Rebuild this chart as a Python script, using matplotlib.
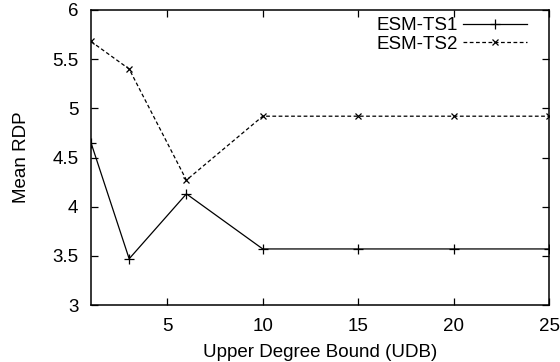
import matplotlib.pyplot as plt

plt.rcParams['font.family'] = ['Liberation Sans', 'DejaVu Sans']

# Mean RDP against the upper degree bound
udb = [1, 3, 6, 10, 15, 20, 25]
ts1 = [4.65, 3.47, 4.13, 3.57, 3.57, 3.57, 3.57]
ts2 = [5.68, 5.40, 4.27, 4.92, 4.92, 4.92, 4.92]

xticks = [5, 10, 15, 20, 25]
yticks = [3, 3.5, 4, 4.5, 5, 5.5, 6]
ytick_labels = ["3", "3.5", "4", "4.5", "5", "5.5", "6"]

FS = 13.5

fig = plt.figure(figsize=(5.6, 3.62), dpi=100)
ax = fig.add_axes([91 / 560, 1 - 305 / 362, (549 - 91) / 560, (305 - 10) / 362])

ax.plot(udb, ts1, color="black", lw=0.9, marker="+", ms=7, mew=0.9,
        label="ESM-TS1")
ax.plot(udb, ts2, color="black", lw=0.9, ls=(0, (3, 2)), marker="x", ms=4.5,
        mew=0.9, label="ESM-TS2")

ax.set_xlim(1, 25)
ax.set_ylim(3, 6)
ax.set_xticks(xticks)
ax.set_yticks(yticks)
ax.set_yticklabels(ytick_labels)
ax.tick_params(direction="in", top=True, right=True, length=5, width=0.9,
               labelsize=FS)
ax.tick_params(axis="y", pad=9)
ax.tick_params(axis="x", pad=9.5)
for s in ax.spines.values():
    s.set_linewidth(1.1)

ax.set_xlabel("Upper Degree Bound (UDB)", fontsize=FS, labelpad=6)
ax.set_ylabel("Mean RDP", fontsize=FS, labelpad=16)

ax.legend(loc="upper right", bbox_to_anchor=(527 / 560, 1 - 17 / 362),
          bbox_transform=fig.transFigure, frameon=False, markerfirst=False,
          fontsize=FS, handlelength=3.4, handletextpad=0.3,
          labelspacing=0.08, borderaxespad=0, borderpad=0)

fig.savefig("out.png", dpi=100)
